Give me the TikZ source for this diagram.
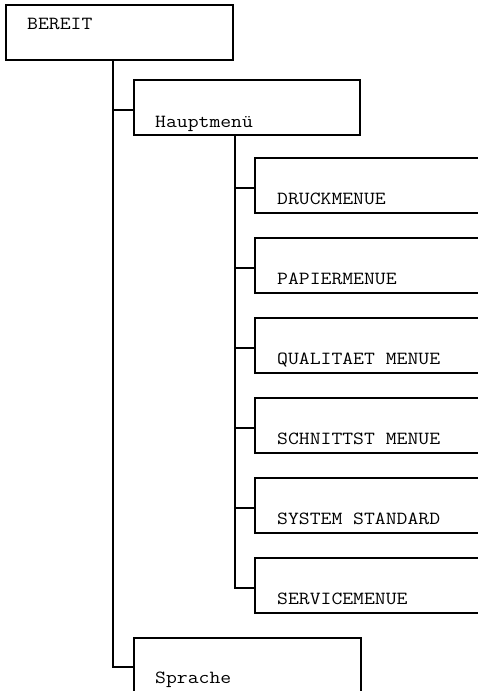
\documentclass[tikz,border=0pt]{standalone}
\usepackage{fontspec}
\newfontfamily\menufont[FakeStretch=1.14]{Latin Modern Mono}
\begin{document}
\begin{tikzpicture}[x=1pt,y=-1pt,
  menubox/.style={draw, line width=2pt, minimum width=#1, minimum height=55pt,
    inner sep=0pt, outer sep=0pt, anchor=north west},
  wire/.style={line width=2pt},
  menutext/.style={anchor=base west, inner sep=0pt, text=black,
    font=\menufont\fontsize{18.5}{20}\selectfont}]
  \clip (0,0) rectangle (478,691);

  % top level
  \node[menubox=227pt] (bereit) at (6,5) {};
  \node[menutext] (tbereit) at ([xshift=21pt,yshift=-24pt]bereit.north west) {BEREIT};

  % second level
  \node[menubox=226pt] (haupt) at (134,80) {};
  \node[menutext] (thaupt) at ([xshift=21pt,yshift=-47pt]haupt.north west) {Hauptmenü};
  \node[menubox=227pt] (sprache) at (134,638) {};
  \node[menutext] (tsprache) at ([xshift=21pt,yshift=-45pt]sprache.north west) {Sprache};

  % third level (open to the right)
  \foreach \name/\txt [count=\i from 0] in {druck/DRUCKMENUE, papier/PAPIERMENUE,
      quali/QUALITAET MENUE, schnitt/SCHNITTST MENUE, system/SYSTEM STANDARD,
      service/SERVICEMENUE} {
    \node[menubox=240pt] (\name) at (255,158+80*\i) {};
    \node[menutext] (t\name) at ([xshift=22pt,yshift=-46pt]\name.north west) {\txt};
    \coordinate (\name-in) at ([yshift=-2.5pt]\name.west);
  }

  % connectors from BEREIT
  \coordinate (t1) at ([xshift=-6.5pt]bereit.south);
  \coordinate (haupt-in) at ([yshift=-2.5pt]haupt.west);
  \coordinate (sprache-in) at ([yshift=-1.5pt]sprache.west);
  \draw[wire] (t1) |- (sprache-in);
  \draw[wire] (t1 |- haupt-in) -- (haupt-in);

  % connectors from Hauptmenue
  \coordinate (t2) at ([xshift=-12pt]haupt.south);
  \draw[wire] (t2) |- (service-in);
  \foreach \name in {druck,papier,quali,schnitt,system}
    \draw[wire] (t2 |- \name-in) -- (\name-in);
\end{tikzpicture}
\end{document}
